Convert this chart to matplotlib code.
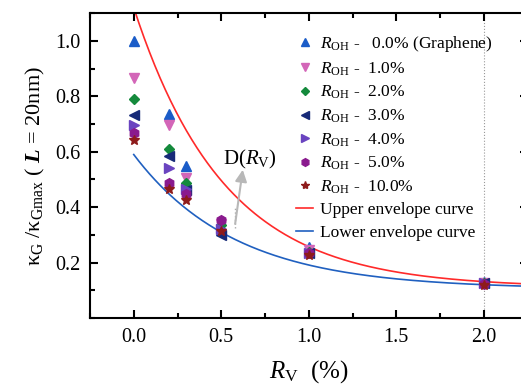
import numpy as np
import matplotlib
matplotlib.use("Agg")
import matplotlib.pyplot as plt
from matplotlib.ticker import MultipleLocator

plt.rcParams['font.family'] = ['Liberation Serif', 'DejaVu Serif']
plt.rcParams['mathtext.fontset'] = 'custom'
plt.rcParams['mathtext.rm'] = 'Liberation Serif'
plt.rcParams['mathtext.it'] = 'Liberation Serif:italic'
plt.rcParams['mathtext.bf'] = 'Liberation Serif:bold:italic'

# Data
rv = [0.0, 0.2, 0.3, 0.5, 1.0, 2.0]
labels = [r'$R_{\rm OH}$ -   0.0% (Graphene)', r'$R_{\rm OH}$ -  1.0%', r'$R_{\rm OH}$ -  2.0%',
          r'$R_{\rm OH}$ -  3.0%', r'$R_{\rm OH}$ -  4.0%', r'$R_{\rm OH}$ -  5.0%',
          r'$R_{\rm OH}$ -  10.0%']
r00 = [1.000, 0.736, 0.547, 0.330, 0.257, 0.130]
r01 = [0.865, 0.695, 0.505, 0.340, 0.245, 0.127]
r02 = [0.790, 0.611, 0.487, 0.337, 0.240, 0.126]
r03 = [0.733, 0.583, 0.462, 0.300, 0.236, 0.125]
r04 = [0.695, 0.541, 0.467, 0.320, 0.235, 0.125]
r05 = [0.667, 0.487, 0.448, 0.355, 0.234, 0.124]
r10 = [0.643, 0.465, 0.427, 0.313, 0.229, 0.120]
series = [r00, r01, r02, r03, r04, r05, r10]
markers = ['^', 'v', 'D', '<', '>', 'h', '*']
colors = ['#1a5cc8', '#d366b8', '#148a3c', '#172a78', '#6a44c0', '#8a1a8e', '#8e1b1b']
msizes = [7, 7, 5.5, 7, 7, 7, 7.5]

# Envelope curve parameters: y = a*exp(-x/t) + c
upper_a, upper_t, upper_c = 1.01, 0.52, 0.11
lower_a, lower_t, lower_c = 0.485, 0.58, 0.105

fig = plt.figure(figsize=(5.21, 3.87), dpi=100)
ax = fig.add_axes([0.1727, 0.178, 0.84, 0.788])

xs = np.linspace(0.0, 2.25, 300)
l1, = ax.plot(xs, upper_a*np.exp(-xs/upper_t)+upper_c, color='#ff2a2a', lw=1.2, zorder=2)
l2, = ax.plot(xs, lower_a*np.exp(-xs/lower_t)+lower_c, color='#2060c0', lw=1.2, zorder=2)

handles = []
for s, m, c, ms in zip(series, markers, colors, msizes):
    h, = ax.plot(rv, s, linestyle='none', marker=m, color=c, markersize=ms, zorder=3)
    handles.append(h)

ax.axvline(2.0, color='#999999', lw=0.8, ls=':', zorder=1)

# D(R_V) annotation
ax.plot([0.577, 0.577], [0.326, 0.40], color='#aaaaaa', lw=1, ls=':')
ax.annotate('', xy=(0.625, 0.545), xytext=(0.577, 0.33),
            arrowprops=dict(arrowstyle='-|>,head_width=0.35,head_length=0.7', color='#b8b8b8', lw=1.5))
ax.text(0.663, 0.572, r'D($R_{\rm V}$)', fontsize=15, ha='center', va='center')

ax.set_xlim(-0.25, 2.25)
ax.set_ylim(0.0, 1.1)
ax.xaxis.set_minor_locator(MultipleLocator(0.25))
ax.yaxis.set_minor_locator(MultipleLocator(0.1))
ax.set_yticks([0.2, 0.4, 0.6, 0.8, 1.0])
ax.set_xticks([0.0, 0.5, 1.0, 1.5, 2.0])
ax.tick_params(which='both', direction='in', top=True, right=True, width=1.5)
ax.tick_params(which='major', length=6, labelsize=14.5, pad=7)
ax.tick_params(which='minor', length=3.5)
for sp in ax.spines.values():
    sp.set_linewidth(1.5)

ax.set_xlabel(r'$R_{\rm V}$  (%)', fontsize=18, labelpad=8)
ax.set_ylabel(r'κ$_{\rm G}$ /κ$_{\rm Gmax}$ ( $\mathbf{L}$ = 20nm)', fontsize=16, labelpad=6)

leg = ax.legend(handles + [l1, l2], labels + ['Upper envelope curve', 'Lower envelope curve'],
                loc='upper left', bbox_to_anchor=(0.568, 0.912), bbox_transform=fig.transFigure,
                frameon=False, fontsize=12.5, handlelength=1.0, handletextpad=0.4,
                labelspacing=0.36, borderpad=0, borderaxespad=0, markerscale=0.8)

fig.savefig('out.png', dpi=100)
